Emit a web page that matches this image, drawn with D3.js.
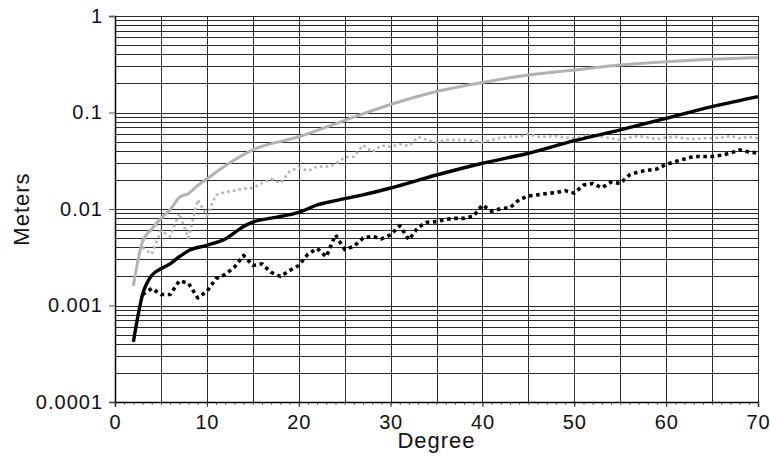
<!DOCTYPE html>
<html>
<head>
<meta charset="utf-8">
<script src="https://cdn.jsdelivr.net/npm/d3@7"></script>
<style>
  html, body { margin: 0; padding: 0; background: #fff; }
  svg { display: block; }
  text { font-family: "Liberation Sans", Arial, Helvetica, sans-serif; }
</style>
</head>
<body>
<svg id="chart" width="770" height="462"></svg>
<script>
// ---------- data ----------
const xTicks = [0, 10, 20, 30, 40, 50, 60, 70];
const yTickValues = [0.0001, 0.001, 0.01, 0.1, 1];
const yTickLabels = ["0.0001", "0.001", "0.01", "0.1", "1"];

// gray solid
const graySolidX = [2, 3, 4, 5, 6, 7, 8, 9, 10, 12, 15, 20, 25, 30, 35, 40, 45, 50, 55, 60, 65, 70];
const graySolidY = [0.0016, 0.0046, 0.0062, 0.008, 0.0098, 0.0132, 0.0145, 0.0175, 0.0205, 0.028, 0.041, 0.056, 0.083, 0.121, 0.165, 0.205, 0.245, 0.276, 0.31, 0.336, 0.356, 0.37];

// black solid
const blackSolidX = [2, 3, 4, 5, 6, 7, 8, 10, 12, 14, 15, 17.5, 20, 22, 24, 27, 30, 35, 40, 45, 50, 55, 60, 65, 70];
const blackSolidY = [0.00042, 0.0013, 0.00205, 0.0024, 0.0027, 0.0032, 0.0037, 0.0042, 0.0049, 0.0066, 0.0073, 0.0082, 0.0092, 0.011, 0.0122, 0.014, 0.0165, 0.0225, 0.0298, 0.0378, 0.051, 0.066, 0.087, 0.115, 0.146];

// gray dotted (degrees 3..70)
const grayDotX = d3.range(3, 71);
const grayDotY = [0.0040, 0.0034, 0.0060, 0.0052, 0.0090, 0.0050, 0.0125, 0.0085, 0.0140, 0.0150,
  0.0155, 0.0163, 0.0165, 0.0185, 0.0205, 0.0185, 0.0245, 0.0270, 0.0248, 0.0275,
  0.0275, 0.0290, 0.0345, 0.0348, 0.0460, 0.0390, 0.0455, 0.0440, 0.0470, 0.0450,
  0.0560, 0.0520, 0.0490, 0.0520, 0.0520, 0.0520, 0.0510, 0.0490, 0.0520, 0.0550,
  0.0560, 0.0560, 0.0600, 0.0560, 0.0560, 0.0570, 0.0550, 0.0540, 0.0570, 0.0580,
  0.0560, 0.0540, 0.0520, 0.0550, 0.0570, 0.0550, 0.0530, 0.0550, 0.0560, 0.0540,
  0.0530, 0.0540, 0.0540, 0.0550, 0.0570, 0.0540, 0.0560, 0.0540];

// black dotted (degrees 3..70)
const blackDotX = d3.range(3, 71);
const blackDotY = [0.0013, 0.0015, 0.0013, 0.0013, 0.0018, 0.0017, 0.0012, 0.0014, 0.0019, 0.0021,
  0.0025, 0.0033, 0.0026, 0.0027, 0.0022, 0.0020, 0.0023, 0.0026, 0.0034, 0.0039,
  0.0032, 0.0054, 0.0038, 0.0041, 0.0050, 0.0052, 0.0049, 0.0054, 0.0067, 0.0048,
  0.0065, 0.0073, 0.0074, 0.0078, 0.0080, 0.0080, 0.0084, 0.0110, 0.0095, 0.0101,
  0.0103, 0.0125, 0.0136, 0.0140, 0.0145, 0.0148, 0.0155, 0.0146, 0.0177, 0.0184,
  0.0166, 0.0190, 0.0184, 0.0225, 0.0243, 0.0252, 0.0260, 0.0290, 0.0310, 0.0330,
  0.0350, 0.0350, 0.0350, 0.0360, 0.0380, 0.0410, 0.0390, 0.0380];

// ---------- layout ----------
const svg = d3.select("#chart");
const mLeft = 115, mRight = 758, mTop = 16, mBottom = 402;

const x = d3.scaleLinear().domain([0, 70]).range([mLeft, mRight]);
const y = d3.scaleLog().domain([0.0001, 1]).range([mBottom, mTop]);

// grid: horizontal lines at every minor log value
const hVals = [];
for (let e = -4; e < 0; e++) {
  for (let m = 1; m <= 9; m++) hVals.push(m * Math.pow(10, e));
}
hVals.push(1);
const grid = svg.append("g").attr("stroke", "#2a2a2a").attr("stroke-width", 1.2).attr("shape-rendering", "crispEdges");
grid.selectAll("line.h").data(hVals).join("line")
  .attr("x1", mLeft).attr("x2", mRight)
  .attr("y1", d => Math.round(y(d)) + 0.5).attr("y2", d => Math.round(y(d)) + 0.5);
const vVals = d3.range(5, 71, 5);
grid.selectAll("line.v").data(vVals).join("line")
  .attr("y1", mTop).attr("y2", mBottom)
  .attr("x1", d => Math.round(x(d)) + 0.5).attr("x2", d => Math.round(x(d)) + 0.5);

// axes
const yAxis = d3.axisLeft(y).tickValues(yTickValues)
  .tickFormat((d, i) => yTickLabels[i]).tickSize(6).tickPadding(6);
const gy = svg.append("g").attr("transform", `translate(${mLeft},0)`).call(yAxis);
gy.select(".domain").attr("stroke", "#000").attr("stroke-width", 1.5);
gy.selectAll(".tick line").attr("stroke", "#555");
gy.selectAll("text").attr("font-size", 20).attr("letter-spacing", 1).attr("fill", "#111");

const xMinor = d3.axisBottom(x).tickValues(d3.range(0, 71, 1)).tickSize(3).tickFormat("");
const gxm = svg.append("g").attr("transform", `translate(0,${mBottom})`).call(xMinor);
gxm.select(".domain").remove();
gxm.selectAll(".tick line").attr("stroke", "#666");

const xAxis = d3.axisBottom(x).tickValues(xTicks).tickSize(5).tickPadding(8);
const gx = svg.append("g").attr("transform", `translate(0,${mBottom})`).call(xAxis);
gx.select(".domain").attr("stroke", "#000").attr("stroke-width", 1.5);
gx.selectAll(".tick line").attr("stroke", "#333");
gx.selectAll("text").attr("font-size", 20).attr("letter-spacing", 0.8).attr("fill", "#111");

// axis titles
svg.append("text").attr("x", (mLeft + mRight) / 2).attr("y", 448)
  .attr("text-anchor", "middle").attr("font-size", 22).attr("letter-spacing", 1).attr("fill", "#111").text("Degree");
svg.append("text").attr("transform", `translate(29,${(mTop + mBottom) / 2}) rotate(-90)`)
  .attr("text-anchor", "middle").attr("font-size", 22).attr("letter-spacing", 1).attr("fill", "#111").text("Meters");

// ---------- series ----------
function draw(xs, ys, opts) {
  const pts = xs.map((d, i) => [d, ys[i]]);
  const line = d3.line().x(d => x(d[0])).y(d => y(d[1])).curve(opts.curve || d3.curveLinear);
  svg.append("path").datum(pts)
    .attr("fill", "none")
    .attr("stroke", opts.color)
    .attr("stroke-width", opts.width)
    .attr("stroke-dasharray", opts.dash || null)
    .attr("stroke-linejoin", "round")
    .attr("d", line);
}

draw(grayDotX, grayDotY, { color: "#b5b5b5", width: 2.6, dash: "2.6,3.2" });
draw(graySolidX, graySolidY, { color: "#b3b3b3", width: 3, curve: d3.curveMonotoneX });
draw(blackDotX, blackDotY, { color: "#000", width: 3.6, dash: "3.6,3.6" });
draw(blackSolidX, blackSolidY, { color: "#000", width: 3.4, curve: d3.curveMonotoneX });
</script>
</body>
</html>
